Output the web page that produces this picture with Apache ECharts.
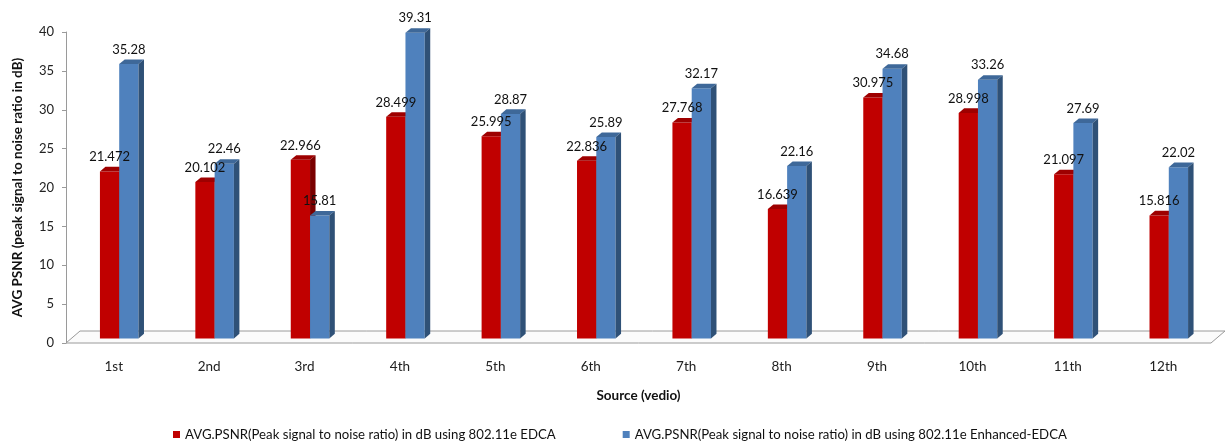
<!DOCTYPE html>
<html>
<head>
<meta charset="utf-8">
<script src="https://cdn.jsdelivr.net/npm/echarts@6/dist/echarts.min.js"></script>
<style>
  html, body { margin: 0; padding: 0; background: #fff; }
  #chart { width: 1227px; height: 447px; }
</style>
</head>
<body>
<div id="chart"></div>
<script>
// Average PSNR per video source, EDCA vs Enhanced-EDCA
const categories = ['1st', '2nd', '3rd', '4th', '5th', '6th', '7th', '8th', '9th', '10th', '11th', '12th'];
const edca = [21.472, 20.102, 22.966, 28.499, 25.995, 22.836, 27.768, 16.639, 30.975, 28.998, 21.097, 15.816];
const enhancedEdca = [35.28, 22.46, 15.81, 39.31, 28.87, 25.89, 32.17, 22.16, 34.68, 33.26, 27.69, 22.02];
const yTicks = { min: 0, max: 40, interval: 5 };

const seriesNames = [
  'AVG.PSNR(Peak signal to noise ratio) in dB using 802.11e EDCA',
  'AVG.PSNR(Peak signal to noise ratio) in dB using 802.11e Enhanced-EDCA'
];

const FONT = 'Lato, "Open Sans", sans-serif';

// face colours: front, top, side
const palette = [
  { front: '#C00000', top: '#9E0000', side: '#7A0000' },
  { front: '#4F81BD', top: '#3E6899', side: '#2F5177' }
];

// depth of the extruded bars and the floor
const BAR_DX = 5.5, BAR_DY = 4.6;
const FLOOR_DX = 14, FLOOR_DY = 12;

function barRenderer(slot) {
  const col = palette[slot];
  return function (params, api) {
    const idx = api.value(0);
    const val = api.value(1);
    const band = api.size([1, 0])[0];
    const w = band * 0.202;
    const base = api.coord([idx, 0]);
    const topPt = api.coord([idx, val]);
    const x0 = base[0] + BAR_DX - w + slot * w;
    const x1 = x0 + w;
    const yb = base[1] - BAR_DY;
    const yt = topPt[1] - BAR_DY;
    return {
      type: 'group',
      children: [
        { type: 'rect', shape: { x: x0, y: yt, width: w, height: yb - yt }, style: { fill: col.front } },
        { type: 'polygon', shape: { points: [[x0, yt], [x0 + BAR_DX, yt - BAR_DY], [x1 + BAR_DX, yt - BAR_DY], [x1, yt]] }, style: { fill: col.top } },
        { type: 'polygon', shape: { points: [[x1, yt], [x1 + BAR_DX, yt - BAR_DY], [x1 + BAR_DX, yb - BAR_DY], [x1, yb]] }, style: { fill: col.side } },
        {
          type: 'text', z2: 100,
          style: {
            x: x0 + w / 2, y: yt - 14.5, text: String(val),
            fill: '#111', font: '13px ' + FONT, align: 'center', verticalAlign: 'middle'
          }
        }
      ]
    };
  };
}

function floorRenderer(params, api) {
  const cs = params.coordSys;
  const yF = cs.y + cs.height;
  const xL = cs.x, xR = cs.x + cs.width;
  return {
    type: 'polygon',
    shape: { points: [[xL, yF], [xL + FLOOR_DX, yF - FLOOR_DY], [xR + FLOOR_DX, yF - FLOOR_DY], [xR, yF]] },
    style: { fill: '#fbfbfb', stroke: '#9a9a9a', lineWidth: 1 }
  };
}

const chart = echarts.init(document.getElementById('chart'), null, { renderer: 'canvas' });
chart.setOption({
  animation: false,
  backgroundColor: '#fff',
  textStyle: { fontFamily: FONT },
  grid: { left: 66, top: 32, width: 1145, height: 311 },
  legend: {
    data: [
      { name: seriesNames[0], itemStyle: { color: palette[0].front } },
      { name: seriesNames[1], itemStyle: { color: palette[1].front } }
    ],
    bottom: 1,
    left: 168,
    icon: 'rect',
    itemWidth: 7,
    itemHeight: 7,
    itemGap: 67,
    textStyle: { fontFamily: FONT, fontSize: 13.2, color: '#111', padding: [0, 0, 0, 0] }
  },
  xAxis: {
    type: 'category',
    data: categories,
    boundaryGap: true,
    axisLine: { show: false },
    axisTick: { show: false },
    axisLabel: { margin: 17, fontSize: 13.5, color: '#222', fontFamily: FONT },
    name: 'Source (vedio)',
    nameLocation: 'middle',
    nameGap: 46,
    nameTextStyle: { fontWeight: 'bold', fontSize: 13.5, color: '#111', fontFamily: FONT }
  },
  yAxis: {
    type: 'value',
    min: yTicks.min, max: yTicks.max, interval: yTicks.interval,
    axisLine: { show: true, lineStyle: { color: '#9a9a9a' } },
    axisTick: { show: true, length: 4, lineStyle: { color: '#9a9a9a' } },
    splitLine: { show: false },
    axisLabel: { margin: 12, fontSize: 13, color: '#222', fontFamily: FONT },
    name: 'AVG PSNR (peak signal to noise ratio in dB)',
    nameLocation: 'middle',
    nameGap: 41,
    nameTextStyle: { fontWeight: 'bold', fontSize: 13.5, color: '#111', fontFamily: FONT }
  },
  series: [
    {
      type: 'custom', name: 'floor', silent: true, z: 1,
      data: [[0]], renderItem: floorRenderer
    },
    {
      type: 'custom', name: seriesNames[0], z: 2,
      itemStyle: { color: palette[0].front },
      data: edca.map((v, i) => [i, v]),
      encode: { x: 0, y: 1 },
      renderItem: barRenderer(0)
    },
    {
      type: 'custom', name: seriesNames[1], z: 2,
      itemStyle: { color: palette[1].front },
      data: enhancedEdca.map((v, i) => [i, v]),
      encode: { x: 0, y: 1 },
      renderItem: barRenderer(1)
    }
  ]
});
</script>
</body>
</html>
